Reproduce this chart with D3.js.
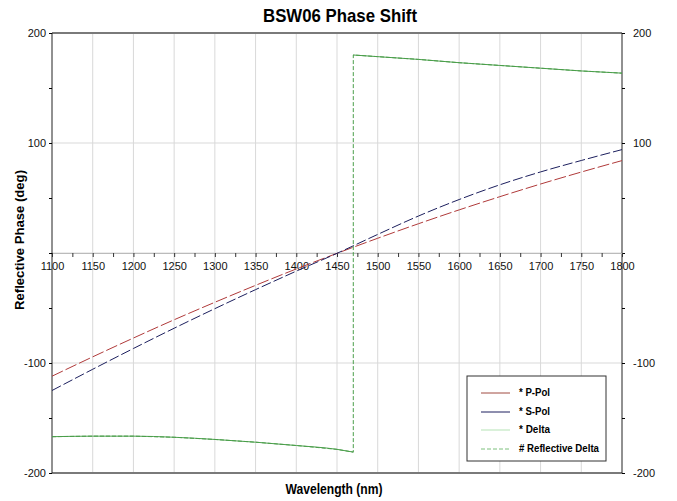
<!DOCTYPE html>
<html>
<head>
<meta charset="utf-8">
<script src="https://d3js.org/d3.v7.min.js"></script>
<style>
  body { margin: 0; background: #fff; }
  text { font-family: "Liberation Sans", Arial, sans-serif; }
</style>
</head>
<body>
<div id="chart"></div>
<script>
// BSW06 phase shift chart

// wavelengths (nm) for the P / S curves
const wavelengths = [1100, 1150, 1200, 1250, 1300, 1350, 1400, 1450, 1500, 1550, 1600, 1650, 1700, 1750, 1800];
// reflective phase (deg)
const pPol = [-112, -94.4, -77.3, -60.7, -44.8, -29.4, -14.5, -0.3, 13.4, 26.6, 39.2, 51.2, 62.7, 73.6, 84];
const sPol = [-125, -105.7, -86.8, -68.4, -50.6, -33.3, -16.5, -0.3, 16.9, 33.6, 48.6, 62, 73.7, 84.1, 94];

// delta before and after the wrap at ~1470 nm
const deltaLowW = [1100, 1150, 1200, 1250, 1300, 1350, 1400, 1450, 1470];
const deltaLow = [-167, -166.5, -166.5, -167.5, -169.5, -172, -175, -178.5, -181];
const deltaHighW = [1470, 1500, 1550, 1600, 1650, 1700, 1750, 1800];
const deltaHigh = [180, 178.5, 176, 173, 170.5, 168, 165.5, 163.5];

const xTicks = [1100, 1150, 1200, 1250, 1300, 1350, 1400, 1450, 1500, 1550, 1600, 1650, 1700, 1750, 1800];
const yLabels = [-200, -100, 100, 200];
const legendLabels = ["* P-Pol", "* S-Pol", "* Delta", "# Reflective Delta"];

const W = 677, H = 501;
const plot = {left: 52, right: 622, top: 33, bottom: 473};

const svg = d3.select("#chart").append("svg")
  .attr("width", W)
  .attr("height", H);

const x = d3.scaleLinear().domain([1100, 1800]).range([plot.left, plot.right]);
const y = d3.scaleLinear().domain([-200, 200]).range([plot.bottom, plot.top]);

// grid
svg.append("g")
  .selectAll("line")
  .data(d3.range(1150, 1800, 50))
  .join("line")
  .attr("x1", d => x(d)).attr("x2", d => x(d))
  .attr("y1", plot.top).attr("y2", plot.bottom)
  .style("stroke", "#d9d9d9").style("stroke-width", 1);

svg.append("g")
  .selectAll("line")
  .data([-100, 0, 100])
  .join("line")
  .attr("x1", plot.left).attr("x2", plot.right)
  .attr("y1", d => y(d)).attr("y2", d => y(d))
  .style("stroke", "#d9d9d9").style("stroke-width", 1);

// top / bottom frame
svg.append("line").attr("x1", plot.left).attr("x2", plot.right).attr("y1", plot.top).attr("y2", plot.top)
  .style("stroke", "#7a7a7a").style("stroke-width", 2);
svg.append("line").attr("x1", plot.left).attr("x2", plot.right).attr("y1", plot.bottom).attr("y2", plot.bottom)
  .style("stroke", "#7a7a7a").style("stroke-width", 2);

// left and right axes
const yTickVals = d3.range(-200, 201, 50);
const leftAxis = svg.append("g")
  .attr("transform", `translate(${plot.left},0)`)
  .call(d3.axisLeft(y).tickValues(yTickVals).tickSize(3)
    .tickFormat(d => yLabels.includes(d) ? d : ""));
const rightAxis = svg.append("g")
  .attr("transform", `translate(${plot.right},0)`)
  .call(d3.axisRight(y).tickValues(yTickVals).tickSize(3)
    .tickFormat(d => yLabels.includes(d) ? d : ""));
[leftAxis, rightAxis].forEach(a => {
  a.select(".domain").attr("d", `M0,${plot.top}V${plot.bottom}`).style("stroke", "#222");
  a.selectAll("text").style("font-size", "11px").style("fill", "#111")
    .style("font-family", "'Liberation Sans', Arial, sans-serif");
});
leftAxis.selectAll("text").attr("x", -6);
rightAxis.selectAll("text").attr("x", 11);

// x axis along zero
const xAxis = svg.append("g")
  .attr("transform", `translate(0,${y(0)})`)
  .call(d3.axisBottom(x).tickValues(d3.range(1100, 1801, 25)).tickSize(4)
    .tickFormat(d => xTicks.includes(d) ? d : ""));
xAxis.select(".domain").style("stroke", "#bbb");
xAxis.selectAll("line").style("stroke", "#333");
xAxis.selectAll("text").style("font-size", "11px").style("fill", "#111")
  .style("font-family", "'Liberation Sans', Arial, sans-serif")
  .attr("y", 9);

// curves
const line = d3.line().x(d => x(d[0])).y(d => y(d[1]));
const smooth = d3.line().x(d => x(d[0])).y(d => y(d[1])).curve(d3.curveMonotoneX);

svg.append("path")
  .datum(d3.zip(wavelengths, pPol))
  .attr("d", smooth)
  .style("fill", "none").style("stroke", "#b03a3a").style("stroke-width", 1)
  .style("stroke-dasharray", "12,3");

svg.append("path")
  .datum(d3.zip(wavelengths, sPol))
  .attr("d", smooth)
  .style("fill", "none").style("stroke", "#1c1f5e").style("stroke-width", 1)
  .style("stroke-dasharray", "10,3");

// reflective delta (dashed, includes the vertical jump)
svg.append("path")
  .datum(d3.zip(deltaLowW, deltaLow).concat(d3.zip(deltaHighW, deltaHigh)))
  .attr("d", line)
  .style("fill", "none").style("stroke", "#4a9e4a").style("stroke-width", 1)
  .style("stroke-dasharray", "4,2");

// delta (solid, two pieces)
[d3.zip(deltaLowW, deltaLow), d3.zip(deltaHighW, deltaHigh)].forEach(seg => {
  svg.append("path")
    .datum(seg)
    .attr("d", smooth)
    .style("fill", "none").style("stroke", "#4a9e4a").style("stroke-width", 1);
});

// titles (squeezed to mimic the condensed face)
svg.append("text")
  .attr("x", 340).attr("y", 22)
  .attr("text-anchor", "middle")
  .attr("textLength", 154).attr("lengthAdjust", "spacingAndGlyphs")
  .style("font-size", "19px").style("font-weight", "bold")
  .text("BSW06 Phase Shift");

svg.append("text")
  .attr("x", 334).attr("y", 494)
  .attr("text-anchor", "middle")
  .attr("textLength", 97).attr("lengthAdjust", "spacingAndGlyphs")
  .style("font-size", "14px").style("font-weight", "bold")
  .text("Wavelength (nm)");

svg.append("text")
  .attr("transform", "translate(24,240) rotate(-90)")
  .attr("text-anchor", "middle")
  .attr("textLength", 140).attr("lengthAdjust", "spacingAndGlyphs")
  .style("font-size", "13px").style("font-weight", "bold")
  .text("Reflective Phase (deg)");

// legend
const lg = svg.append("g").attr("transform", "translate(467,376)");
lg.append("rect")
  .attr("width", 139).attr("height", 85)
  .style("fill", "#fff").style("stroke", "#333").style("stroke-width", 1);

const legendStyles = [
  { color: "#a04a40", dash: null, len: 31 },
  { color: "#1c1f5e", dash: null, len: 31 },
  { color: "#b5e3b5", dash: null, len: 31 },
  { color: "#7cc07c", dash: "4,2", len: 80 }
];
const rowY = [17, 36, 54, 73];

lg.selectAll("line.sample")
  .data(legendLabels)
  .join("line")
  .attr("class", "sample")
  .attr("x1", 14).attr("x2", 43)
  .attr("y1", (d, i) => rowY[i]).attr("y2", (d, i) => rowY[i])
  .style("stroke", (d, i) => legendStyles[i].color)
  .style("stroke-dasharray", (d, i) => legendStyles[i].dash)
  .style("stroke-width", 1);

lg.selectAll("text")
  .data(legendLabels)
  .join("text")
  .attr("x", 52)
  .attr("y", (d, i) => rowY[i] + 3)
  .attr("textLength", (d, i) => legendStyles[i].len)
  .attr("lengthAdjust", "spacingAndGlyphs")
  .style("font-size", "10px").style("font-weight", "bold")
  .text(d => d);
</script>
</body>
</html>
